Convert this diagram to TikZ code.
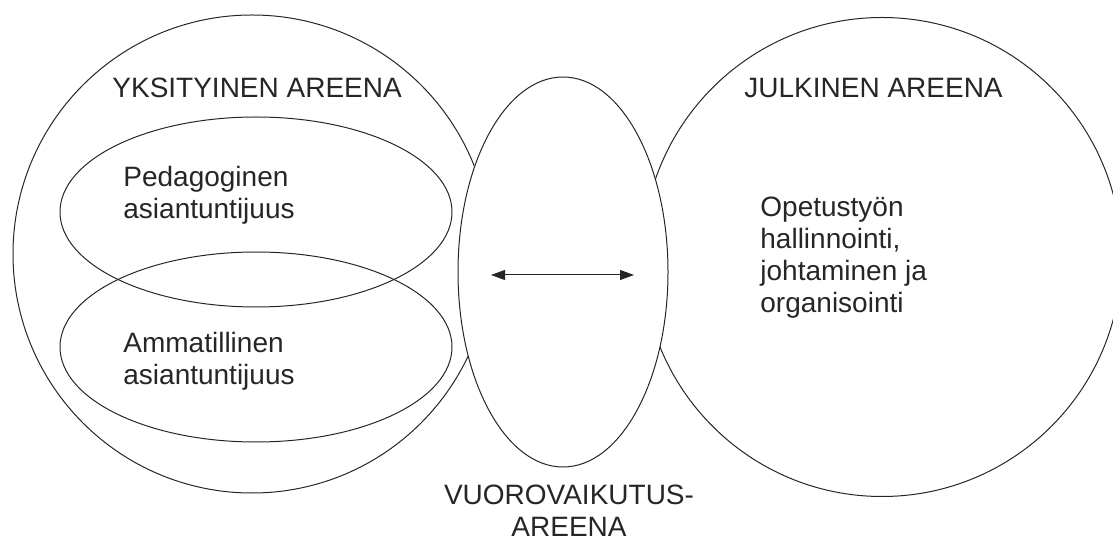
\documentclass[tikz,border=0pt]{standalone}
\usepackage{fontspec}
\setmainfont{Liberation Sans}
\usetikzlibrary{arrows.meta}

\begin{document}
\begin{tikzpicture}[x=0.5pt, y=-0.5pt, >={Triangle[length=7pt, width=5pt]},
  every node/.style={font=\fontsize{14}{16}\selectfont, inner sep=0pt, text=black!85},
  arena/.style={draw=black!85, line width=0.5pt},
  txt/.style={align=left, anchor=base west}]
\clip (0,0) rectangle (1113,539);
% the two big arenas
\draw[arena] (252,254) circle [radius=239];
\draw[arena] (882,257) circle [radius=239.5];
% expertise inside the private arena
\draw[arena] (256,212) ellipse [x radius=196, y radius=95];
\draw[arena] (256,347) ellipse [x radius=196, y radius=95];
% interaction arena in front
\draw[arena, fill=white] (563,272) ellipse [x radius=105, y radius=195];

% base of a multi-line node is its last line
\node[txt] (priv) at (112,98) {YKSITYINEN AREENA};
\node[txt] (pub) at (744,98) {JULKINEN AREENA};
\node[txt] (peda) at (123,219) {Pedagoginen\\asiantuntijuus};
\node[txt] (amma) at (123,385) {Ammatillinen\\asiantuntijuus};
\node[txt] (hall) at (760,313) {Opetustyön\\hallinnointi,\\johtaminen ja\\organisointi};
\node[align=center, anchor=base] (inter) at (569,536) {VUOROVAIKUTUS-\\AREENA};

\coordinate (lefttip) at (491,275);
\coordinate (righttip) at (634,275);
\draw[<->, black!85, line width=0.5pt] (lefttip) -- (righttip);
\end{tikzpicture}
\end{document}
